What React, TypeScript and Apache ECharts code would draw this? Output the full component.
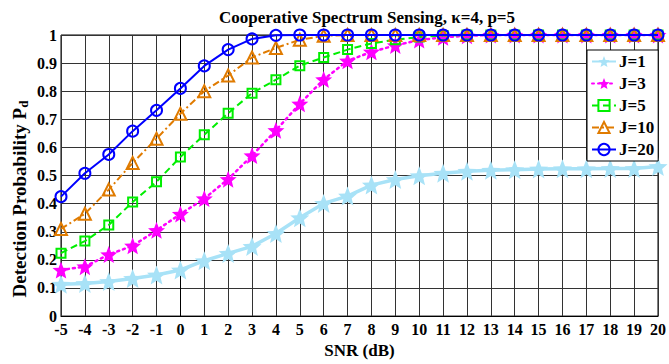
import React, { useEffect, useRef } from "react";
import * as echarts from "echarts";

// SNR sweep in dB
const snr = [-5, -4, -3, -2, -1, 0, 1, 2, 3, 4, 5, 6, 7, 8, 9, 10, 11, 12, 13, 14, 15, 16, 17, 18, 19, 20];

// Detection probability for each number of cooperating users J
const pdJ1 = [0.113, 0.116, 0.123, 0.134, 0.146, 0.164, 0.197, 0.223, 0.248, 0.294, 0.35, 0.401, 0.427, 0.466, 0.486, 0.499, 0.508, 0.515, 0.519, 0.521, 0.523, 0.524, 0.524, 0.525, 0.525, 0.532];
const pdJ3 = [0.164, 0.176, 0.219, 0.25, 0.305, 0.363, 0.418, 0.487, 0.571, 0.661, 0.755, 0.842, 0.908, 0.94, 0.963, 0.982, 0.992, 0.997, 1, 1, 1, 1, 1, 1, 1, 1];
const pdJ5 = [0.224, 0.267, 0.324, 0.406, 0.478, 0.566, 0.645, 0.722, 0.793, 0.841, 0.891, 0.92, 0.948, 0.97, 0.983, 0.993, 0.998, 1, 1, 1, 1, 1, 1, 1, 1, 1];
const pdJ10 = [0.31, 0.364, 0.45, 0.545, 0.631, 0.72, 0.8, 0.856, 0.92, 0.954, 0.983, 0.997, 1, 1, 1, 1, 1, 1, 1, 1, 1, 1, 1, 1, 1, 1];
const pdJ20 = [0.425, 0.508, 0.575, 0.658, 0.732, 0.81, 0.89, 0.948, 0.986, 0.999, 1, 1, 1, 1, 1, 1, 1, 1, 1, 1, 1, 1, 1, 1, 1, 1];

const seriesNames = ["J=1", "J=3", "J=5", "J=10", "J=20"];

const FONT = "'Liberation Serif', 'Times New Roman', serif";
const STAR = "path://M0,-10L2.6,-3.4L9.51,-3.09L4.1,1.3L5.88,8.09L0,4.5L-5.88,8.09L-4.1,1.3L-9.51,-3.09L-2.6,-3.4Z";

const pairs = (ys: number[]) => snr.map((x, i) => [x, ys[i]]);

export default function App() {
  const ref = useRef<HTMLDivElement>(null);

  useEffect(() => {
    document.body.style.margin = "0";
    if (!ref.current) return;
    const chart = echarts.init(ref.current, undefined, { renderer: "svg" });

    const hollow = (c: string) => ({ color: "rgba(0,0,0,0)", borderColor: c, borderWidth: 2 });

    chart.setOption({
      animation: false,
      backgroundColor: "#ffffff",
      title: {
        text: "Cooperative Spectrum Sensing, κ=4, p=5",
        left: 362,
        top: 4,
        textAlign: "center",
        textStyle: { fontFamily: FONT, fontWeight: "bold", fontSize: 17, color: "#000" },
      },
      grid: {
        left: 61,
        right: 2,
        top: 35,
        bottom: 39,
        show: true,
        borderColor: "#000",
        borderWidth: 1,
      },
      legend: {
        data: seriesNames,
        orient: "vertical",
        left: 587,
        top: 50,
        width: 72,
        backgroundColor: "#fff",
        borderColor: "#000",
        borderWidth: 1,
        borderRadius: 0,
        padding: [3, 4, 3, 4],
        itemGap: 5,
        itemWidth: 24,
        itemHeight: 14,
        textStyle: { fontFamily: FONT, fontWeight: "bold", fontSize: 17, color: "#000", padding: [0, 0, 0, -2] },
      },
      xAxis: {
        type: "value",
        min: -5,
        max: 20,
        interval: 1,
        name: "SNR (dB)",
        nameLocation: "middle",
        nameGap: 25,
        nameTextStyle: { fontFamily: FONT, fontWeight: "bold", fontSize: 17, color: "#000" },
        axisLine: { show: true, onZero: false, lineStyle: { color: "#000", width: 1 } },
        axisTick: { show: false },
        axisLabel: { fontFamily: FONT, fontWeight: "bold", fontSize: 16, color: "#000", margin: 5 },
        splitLine: { show: true, lineStyle: { color: "#333", width: 1 } },
      },
      yAxis: {
        type: "value",
        min: 0,
        max: 1,
        interval: 0.1,
        axisLine: { show: true, lineStyle: { color: "#000", width: 1 } },
        axisTick: { show: false },
        axisLabel: { fontFamily: FONT, fontWeight: "bold", fontSize: 16, color: "#000", margin: 4 },
        splitLine: { show: true, lineStyle: { color: "#333", width: 1 } },
      },
      graphic: [
        {
          type: "text",
          x: 19,
          y: 199,
          rotation: Math.PI / 2,
          style: {
            text: "Detection Probability P{sub|d}",
            fontFamily: FONT,
            fontWeight: "bold",
            fontSize: 19,
            fill: "#000",
            align: "center",
            verticalAlign: "middle",
            rich: {
              sub: { fontFamily: FONT, fontWeight: "bold", fontSize: 13, fill: "#000", padding: [9, 0, 0, 0] },
            },
          },
        },
      ],
      series: [
        {
          name: "J=1",
          type: "line",
          data: pairs(pdJ1),
          symbol: STAR,
          symbolSize: 19,
          itemStyle: { color: "#a8e2f7" },
          lineStyle: { color: "#a8e2f7", width: 3.5 },
          z: 2,
        },
        {
          name: "J=3",
          type: "line",
          data: pairs(pdJ3),
          symbol: STAR,
          symbolSize: 17,
          itemStyle: { color: "#ff00ff" },
          lineStyle: { color: "#ff00ff", width: 2.5, type: [2, 4], cap: "round" },
          z: 3,
        },
        {
          name: "J=5",
          type: "line",
          data: pairs(pdJ5),
          symbol: "rect",
          symbolSize: 9,
          itemStyle: hollow("#00ee00"),
          lineStyle: { color: "#00ee00", width: 2, type: [7, 4] },
          z: 4,
        },
        {
          name: "J=10",
          type: "line",
          data: pairs(pdJ10),
          symbol: "triangle",
          symbolSize: 12,
          itemStyle: hollow("#e07b00"),
          lineStyle: { color: "#e07b00", width: 2, type: [7, 3, 2, 3] },
          z: 5,
        },
        {
          name: "J=20",
          type: "line",
          data: pairs(pdJ20),
          symbol: "circle",
          symbolSize: 11,
          itemStyle: hollow("#0000ff"),
          lineStyle: { color: "#0000ff", width: 2 },
          z: 6,
        },
      ],
    });

    return () => chart.dispose();
  }, []);

  return <div ref={ref} style={{ width: 669, height: 364 }} />;
}
